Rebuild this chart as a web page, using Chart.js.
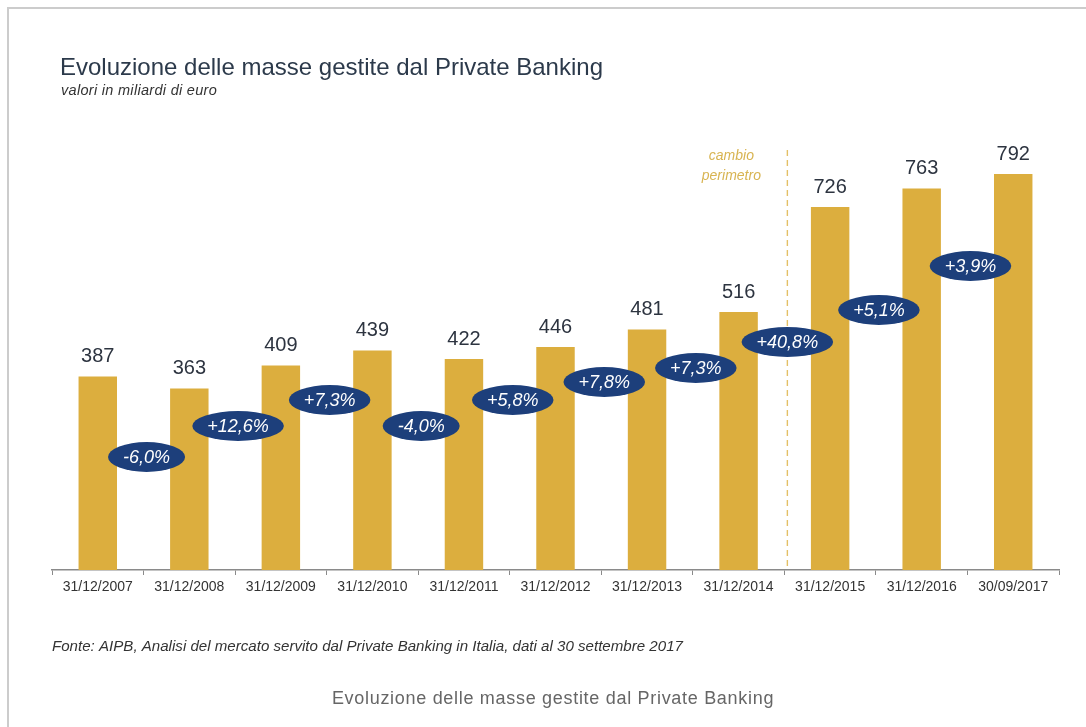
<!DOCTYPE html>
<html>
<head>
<meta charset="utf-8">
<script src="https://cdn.jsdelivr.net/npm/chart.js@4/dist/chart.umd.min.js"></script>
<style>
  html, body { margin: 0; padding: 0; background: #fff; }
  canvas { display: block; }
</style>
</head>
<body>
<canvas id="grafik" width="1086" height="727"></canvas>
<script>
const categories = ["31/12/2007", "31/12/2008", "31/12/2009", "31/12/2010", "31/12/2011", "31/12/2012",
  "31/12/2013", "31/12/2014", "31/12/2015", "31/12/2016", "30/09/2017"];
const masse = [387, 363, 409, 439, 422, 446, 481, 516, 726, 763, 792];
const variazioni = ["-6,0%", "+12,6%", "+7,3%", "-4,0%", "+5,8%", "+7,8%", "+7,3%", "+40,8%", "+5,1%", "+3,9%"];
// height of each variation badge, in miliardi
const livelloBadge = [226, 288, 340, 288, 340, 376, 404, 456, 520, 608];
const yMax = 800;

const FONT = '"Liberation Sans", Arial, sans-serif';
const gold = "#dcae3e";
const navy = "#1d3f7b";

const extras = {
  id: "extras",
  beforeDatasetsDraw(chart) {
    const ctx = chart.ctx;
    const x = chart.scales.x;
    const area = chart.chartArea;
    // dashed "cambio perimetro" line between 2014 and 2015
    const xs = (x.getPixelForValue(7) + x.getPixelForValue(8)) / 2 + 3;
    ctx.save();
    ctx.strokeStyle = "#e3c066";
    ctx.lineWidth = 1.4;
    ctx.setLineDash([6, 4]);
    ctx.beginPath();
    ctx.moveTo(xs, 150);
    ctx.lineTo(xs, area.bottom);
    ctx.stroke();
    ctx.setLineDash([]);
    ctx.fillStyle = "#d8b452";
    ctx.font = "italic 14px " + FONT;
    ctx.textAlign = "center";
    ctx.textBaseline = "middle";
    ctx.fillText("cambio", xs - 56, 156);
    ctx.fillText("perimetro", xs - 56, 176);
    ctx.restore();
  },
  afterDraw(chart) {
    const ctx = chart.ctx;
    const x = chart.scales.x;
    const y = chart.scales.y;
    const meta = chart.getDatasetMeta(0);
    ctx.save();

    // frame
    ctx.strokeStyle = "#cccccc";
    ctx.lineWidth = 2;
    ctx.beginPath();
    ctx.moveTo(8, 727);
    ctx.lineTo(8, 8);
    ctx.lineTo(1086, 8);
    ctx.stroke();

    // titles
    ctx.textAlign = "left";
    ctx.textBaseline = "alphabetic";
    ctx.fillStyle = "#2c3a4b";
    ctx.font = "24px " + FONT;
    ctx.fillText("Evoluzione delle masse gestite dal Private Banking", 60, 75);
    ctx.fillStyle = "#333";
    ctx.font = "italic 14.5px " + FONT;
    ctx.letterSpacing = "0.3px";
    ctx.fillText("valori in miliardi di euro", 61, 95);
    ctx.letterSpacing = "0px";

    // value labels
    ctx.textAlign = "center";
    ctx.textBaseline = "middle";
    ctx.fillStyle = "#2d3440";
    ctx.font = "20px " + FONT;
    meta.data.forEach((bar, i) => {
      ctx.fillText(String(masse[i]), bar.x, bar.y - 20);
    });

    // variation badges
    ctx.font = "italic 18px " + FONT;
    variazioni.forEach((t, i) => {
      const cx = (x.getPixelForValue(i) + x.getPixelForValue(i + 1)) / 2 + 3;
      const cy = y.getPixelForValue(livelloBadge[i]);
      const w = ctx.measureText(t).width + 30;
      ctx.fillStyle = navy;
      ctx.beginPath();
      ctx.ellipse(cx, cy, w / 2, 15, 0, 0, Math.PI * 2);
      ctx.fill();
      ctx.fillStyle = "#fff";
      ctx.fillText(t, cx, cy + 1);
    });

    // source and caption
    ctx.textAlign = "left";
    ctx.fillStyle = "#333";
    ctx.font = 'italic 15.1px "Liberation Sans Narrow", ' + FONT;
    ctx.fillText("Fonte: AIPB, Analisi del mercato servito dal Private Banking in Italia, dati al 30 settembre 2017", 52, 647);
    ctx.textAlign = "center";
    ctx.fillStyle = "#666";
    ctx.font = "18px " + FONT;
    ctx.letterSpacing = "0.7px";
    ctx.fillText("Evoluzione delle masse gestite dal Private Banking", 553, 699);
    ctx.letterSpacing = "0px";
    ctx.restore();
  }
};

const grafik = document.getElementById("grafik");
let chart = new Chart(grafik, {
  type: "bar",
  data: {
    labels: categories,
    datasets: [
      {
        label: "Masse gestite",
        data: masse,
        backgroundColor: gold,
        borderWidth: 0,
        barPercentage: 0.42,
        categoryPercentage: 1,
      },
    ],
  },
  options: {
    responsive: false,
    animation: false,
    layout: { padding: { left: 52, right: 27, top: 170, bottom: 127 } },
    plugins: {
      legend: { display: false },
      tooltip: { enabled: false },
    },
    scales: {
      x: {
        afterFit: (s) => { s.height = 30; },
        grid: {
          offset: true,
          drawOnChartArea: false,
          drawTicks: true,
          tickLength: 5,
          color: "#8a8a8a",
          lineWidth: 1,
        },
        border: { color: "#8a8a8a", width: 1.5 },
        ticks: {
          color: "#333",
          font: { size: 14, family: FONT },
          padding: 4,
          maxRotation: 0,
          autoSkip: false,
        },
      },
      y: {
        display: false,
        min: 0,
        max: yMax,
      },
    },
  },
  plugins: [extras],
});
</script>
</body>
</html>
